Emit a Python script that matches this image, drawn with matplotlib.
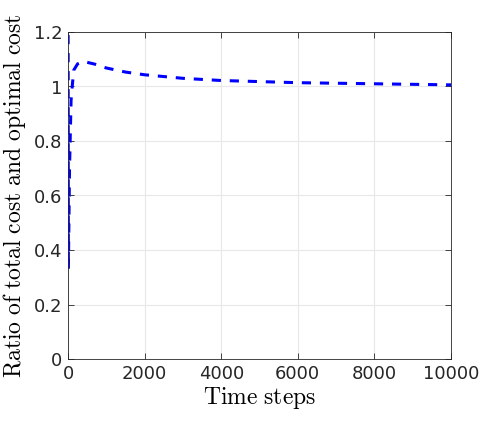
import numpy as np
import matplotlib.pyplot as plt
from matplotlib.ticker import FuncFormatter

plt.rcParams['mathtext.fontset'] = 'cm'

# Ratio curve
steps = [1, 10, 40, 80, 110, 150, 250, 400, 700, 1000, 1500, 2000, 3000,
         4000, 5000, 6000, 7000, 8000, 9000, 10000]
ratio = [1.5, 0.33, 0.70, 0.95, 1.00, 1.06, 1.083, 1.092, 1.082, 1.068,
         1.053, 1.043, 1.030, 1.022, 1.018, 1.014, 1.012, 1.010, 1.008, 1.006]

xticks = [0, 2000, 4000, 6000, 8000, 10000]
yticks = [0, 0.2, 0.4, 0.6, 0.8, 1.0, 1.2]

fig = plt.figure(figsize=(4.98, 4.23), dpi=100)
ax = fig.add_axes([68 / 498, 1 - 359 / 423, 383 / 498, 327 / 423])

ax.plot(steps, ratio, color=(0, 0, 1), linestyle='--', linewidth=2.2,
        dashes=(3, 2.9))

ax.set_xlim(0, 10000)
ax.set_ylim(0, 1.2)
ax.set_xticks(xticks)
ax.set_yticks(yticks)
ax.yaxis.set_major_formatter(FuncFormatter(lambda v, p: '%g' % v))
ax.grid(True, color=(0.91, 0.91, 0.91), linewidth=0.8)
ax.set_axisbelow(True)
ax.tick_params(direction='in', length=4, width=0.6, colors=(0.15, 0.15, 0.15),
               labelsize=13, top=True, right=True, pad=4)
for s in ax.spines.values():
    s.set_color((0.15, 0.15, 0.15))
    s.set_linewidth(0.6)

ax.set_xlabel(r'$\mathrm{Time\ steps}$', fontsize=17, labelpad=2)
ax.set_ylabel(r'$\mathrm{Ratio\ of\ total\ cost\ and\ optimal\ cost}$',
              fontsize=17, labelpad=4)

fig.savefig('out.png', dpi=100)
